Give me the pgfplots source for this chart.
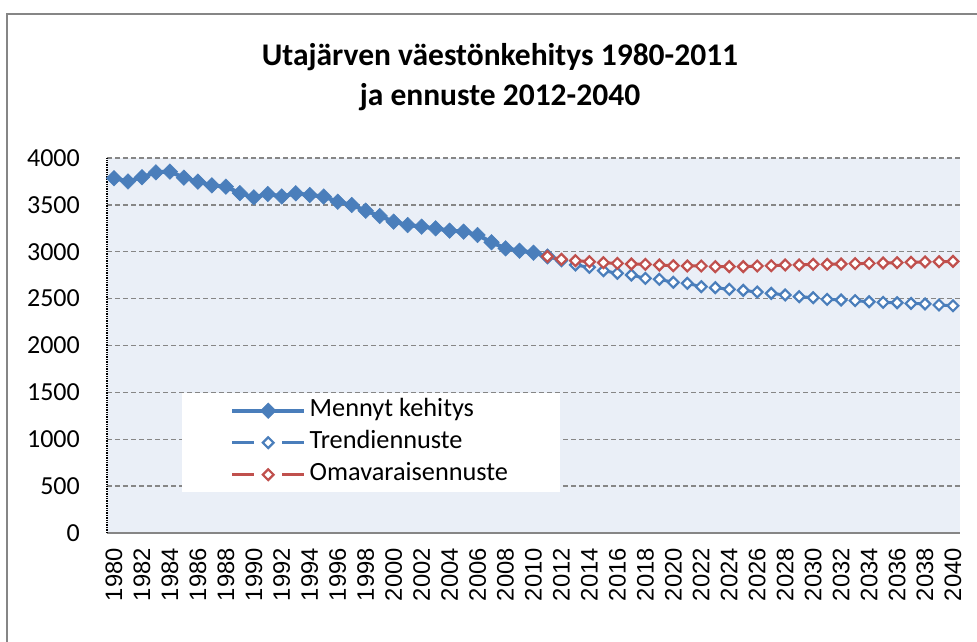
\documentclass[border=0pt]{standalone}
\usepackage{fontspec}
\setmainfont{Carlito}
\newfontfamily\arialf{Liberation Sans}
\usepackage{pgfplots}
\pgfplotsset{compat=1.18}
\definecolor{plotbg}{RGB}{234,239,247}
\definecolor{pastblue}{RGB}{74,126,187}
\definecolor{fcred}{RGB}{192,80,77}
\definecolor{gridgray}{RGB}{134,134,134}
\begin{document}
\begin{tikzpicture}
\path[use as bounding box] (-107pt,-109pt) rectangle (870pt,533pt);
\draw[gridgray, line width=1.5pt] (-100pt,-112pt) -- (-100pt,519pt) -- (875pt,519pt);
\node[align=center, font=\bfseries\fontsize{31.5}{40}\selectfont] at (393pt,456pt) {Utajärven väestönkehitys 1980-2011\\ja ennuste 2012-2040};
\begin{axis}[
  at={(0pt,0pt)}, anchor=south west,
  scale only axis, width=853pt, height=375pt,
  xmin=1979.5, xmax=2040.5, ymin=0, ymax=4000,
  xtick={1980,1982,...,2040}, ytick={0,500,...,4000},
  major tick length=0pt,
  /pgf/number format/assume math mode=true,
  /pgf/number format/1000 sep={},
  axis x line*=bottom, axis y line*=left,
  x axis line style={-, draw=gridgray, line width=1.6pt},
  y axis line style={-, draw=black, densely dotted, line width=1.4pt},
  axis background/.style={fill=plotbg},
  ymajorgrids, grid style={gridgray, line width=1.4pt, dash pattern=on 5pt off 3pt},
  yticklabel style={font=\fontsize{26}{30}\selectfont, inner sep=0pt, xshift=-27pt, anchor=east},
  xticklabel style={font=\arialf\fontsize{23.8}{28}\selectfont, yshift=-15pt, rotate=90, anchor=east, inner sep=0pt},
  legend style={at={(0.0879,0.3733)}, anchor=north west, draw=none, fill=white,
     font=\fontsize{26.3}{30}\selectfont, inner xsep=48pt, inner ysep=1.5pt,
     nodes={inner sep=3.5pt, text height=18.5pt, text depth=6.5pt}},
  legend cell align=left,
  legend image code/.code={\draw[mark repeat=2,mark phase=2,#1] plot coordinates {(0pt,0pt) (36pt,0pt) (72pt,0pt)};},
]
\addplot[pastblue, line width=4pt, mark=square*, mark options={rotate=45, solid, fill=pastblue, draw=pastblue, line width=0.5pt}, mark size=5.5pt] coordinates {
(1980,3785) (1981,3750) (1982,3795) (1983,3847) (1984,3855) (1985,3790) (1986,3748) (1987,3708)
(1988,3694) (1989,3625) (1990,3580) (1991,3616) (1992,3590) (1993,3623) (1994,3605) (1995,3588)
(1996,3534) (1997,3499) (1998,3438) (1999,3381) (2000,3321) (2001,3285) (2002,3267) (2003,3250)
(2004,3225) (2005,3214) (2006,3179) (2007,3101) (2008,3036) (2009,3011) (2010,2990) (2011,2950)
};
\addlegendentry{Mennyt kehitys}
\addplot[pastblue, line width=3pt, dash pattern=on 19pt off 9pt, mark=square*, mark options={rotate=45, solid, fill=white, draw=pastblue, line width=2.2pt}, mark size=3.8pt,
  legend image post style={dash pattern=on 22pt off 28pt}] coordinates {
(2011,2950) (2012,2905) (2013,2859) (2014,2834) (2015,2798) (2016,2770) (2017,2752) (2018,2716)
(2019,2706) (2020,2674) (2021,2663) (2022,2627) (2023,2617) (2024,2599) (2025,2588) (2026,2570)
(2027,2556) (2028,2539) (2029,2521) (2030,2510) (2031,2492) (2032,2485) (2033,2478) (2034,2467)
(2035,2460) (2036,2456) (2037,2449) (2038,2443) (2039,2432) (2040,2424)
};
\addlegendentry{Trendiennuste}
\addplot[fcred, line width=3pt, dash pattern=on 19pt off 9pt, mark=square*, mark options={rotate=45, solid, fill=white, draw=fcred, line width=2.2pt}, mark size=3.8pt,
  legend image post style={dash pattern=on 22pt off 28pt}] coordinates {
(2011,2950) (2012,2919) (2013,2905) (2014,2894) (2015,2883) (2016,2876) (2017,2869) (2018,2866)
(2019,2859) (2020,2851) (2021,2848) (2022,2848) (2023,2841) (2024,2841) (2025,2841) (2026,2848)
(2027,2851) (2028,2859) (2029,2859) (2030,2866) (2031,2866) (2032,2869) (2033,2873) (2034,2876)
(2035,2880) (2036,2883) (2037,2887) (2038,2891) (2039,2894) (2040,2897)
};
\addlegendentry{Omavaraisennuste}
\end{axis}
\end{tikzpicture}
\end{document}
